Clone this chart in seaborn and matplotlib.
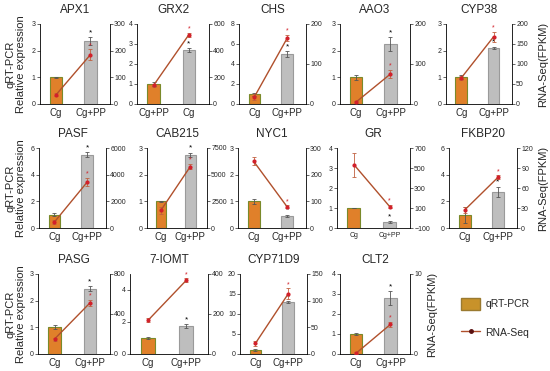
import numpy as np
import pandas as pd
import matplotlib
matplotlib.use("Agg")
import matplotlib.pyplot as plt
import seaborn as sns
from matplotlib.patches import Patch
from matplotlib.lines import Line2D

sns.set_theme(style="white")
plt.rcParams['font.family'] = ['Liberation Sans', 'DejaVu Sans']

genes = ["APX1", "GRX2", "CHS", "AAO3", "CYP38",
         "PASF", "CAB215", "NYC1", "GR", "FKBP20",
         "PASG", "7-IOMT", "CYP71D9", "CLT2"]
groups = ["Cg", "Cg+PP"]
xlabels = [["Cg", "Cg+PP"], ["Cg+PP", "Cg"]] + [["Cg", "Cg+PP"]] * 12

qpcr_mean = [[1.0, 2.35], [1.0, 2.7], [1.0, 5.0], [1.0, 2.25], [1.0, 2.1],
             [1.0, 5.5], [1.0, 2.75], [1.0, 0.45], [1.0, 0.3], [1.0, 2.7],
             [1.0, 2.45], [1.0, 1.75], [1.0, 13.0], [1.0, 2.8]]
qpcr_err = [[0.01, 0.15], [0.1, 0.1], [0.15, 0.3], [0.1, 0.25], [0.07, 0.05],
            [0.1, 0.2], [0.02, 0.08], [0.1, 0.05], [0.02, 0.05], [0.6, 0.4],
            [0.08, 0.1], [0.05, 0.1], [0.2, 0.3], [0.03, 0.35]]
rna_mean = [[35, 185], [140, 520], [18, 165], [5, 75], [65, 168],
            [450, 3450], [1650, 5750], [250, 80], [535, 115], [27, 76],
            [150, 510], [168, 368], [20, 113], [0.1, 3.7]]
rna_err = [[5, 20], [10, 15], [8, 8], [3, 10], [5, 12],
           [150, 300], [300, 250], [15, 5], [120, 15], [5, 3],
           [15, 30], [10, 10], [5, 10], [0.1, 0.3]]
left_ticks = [[0, 1, 2, 3], [0, 1, 2, 3, 4], [0, 2, 4, 6, 8], [0, 1, 2, 3], [0, 1, 2, 3],
              [0, 2, 4, 6], [0, 1, 2, 3], [0, 1, 2, 3], [0, 1, 2, 3, 4], [0, 2, 4, 6],
              [0, 1, 2, 3], [0, 2, 4], [0, 5, 10, 15, 20], [0, 1, 2, 3, 4]]
left_lim = [(0, 3), (0, 4), (0, 8), (0, 3), (0, 3),
            (0, 6), (0, 3), (0, 3), (0, 4), (0, 6),
            (0, 3), (0, 5), (0, 20), (0, 4)]
right_ticks = [[0, 100, 200, 300], [0, 200, 400, 600], [0, 100, 200], [0, 100, 200],
               [0, 50, 100, 150, 200],
               [0, 2000, 4000, 6000], [0, 2500, 5000, 7500], [0, 100, 200, 300],
               [-100, 100, 300, 500, 700], [0, 30, 60, 90, 120],
               [0, 400, 800], [0, 200, 400], [0, 50, 100, 150], [0, 10]]

# axes placement in pixels (left, right, top, bottom)
W, H = 550, 371
boxes = [(40, 110, 24, 104), (137, 209, 24, 104), (239, 306, 24, 104), (340, 410, 24, 104), (446, 512, 24, 104),
         (39, 106, 148, 228), (147, 207, 148, 228), (238, 306, 148, 228), (337, 410, 148, 228), (449, 517, 148, 228),
         (38, 110, 274, 354), (130, 208, 274, 354), (240, 307, 274, 354), (340, 410, 274, 354)]

bar_colors = ["#E0802A", "#BEBEBE"]
bar_edges = ["#7A8A2A", "#9A9A9A"]
line_color = "#B0502C"
dot_color = "#D2202A"

fig = plt.figure(figsize=(W / 100, H / 100), dpi=100)

for i, g in enumerate(genes):
    l, r, t, b = boxes[i]
    ax = fig.add_axes([l / W, 1 - b / H, (r - l) / W, (b - t) / H])
    df = pd.DataFrame({"group": groups, "value": qpcr_mean[i]})
    sns.barplot(data=df, x="group", y="value", hue="group", palette=bar_colors,
                saturation=1, width=0.36, errorbar=None, legend=False, ax=ax, zorder=2)
    for p, ec in zip(ax.patches, bar_edges):
        p.set_edgecolor(ec)
        p.set_linewidth(0.8)
    ax.errorbar([0, 1], qpcr_mean[i], yerr=qpcr_err[i], fmt="none",
                ecolor="#555555", elinewidth=0.6, capsize=1.5, capthick=0.6, zorder=3)
    lo, hi = left_lim[i]
    ax.set_ylim(lo, hi)
    ax.set_yticks(left_ticks[i])
    ax.set_xlim(-0.47, 1.57)
    ax.set_xticks([0, 1])
    ax.set_xticklabels(xlabels[i], fontsize=7 if g != "GR" else 5)
    ax.set_xlabel("")
    ax.set_ylabel("")
    ax.set_title(g, fontsize=8.5, pad=8)
    ax.tick_params(axis="y", labelsize=5, length=2, width=0.5, pad=1, left=True)
    ax.tick_params(axis="x", length=0, pad=3)
    # star above Cg+PP bar
    ax.text(1, qpcr_mean[i][1] + qpcr_err[i][1] + (hi - lo) * 0.01, "*",
            ha="center", va="bottom", fontsize=6, color="black")

    ax2 = ax.twinx()
    ax2.errorbar([0, 1], rna_mean[i], yerr=rna_err[i], color=line_color, lw=1.0,
                 marker="o", ms=2, mfc=dot_color, mec=dot_color,
                 ecolor="#C06040", elinewidth=0.6, capsize=1.5, capthick=0.6)
    rt = right_ticks[i]
    ax2.set_ylim(rt[0], rt[-1])
    ax2.set_yticks(rt)
    ax2.tick_params(axis="y", labelsize=5, length=2, width=0.5, pad=1, right=True)
    yr = rt[-1] - rt[0]
    ax2.text(1, rna_mean[i][1] + rna_err[i][1] + yr * 0.005, "*",
             ha="center", va="bottom", fontsize=5, color=dot_color)
    for a in (ax, ax2):
        a.spines["top"].set_visible(False)
        for s in ("left", "right", "bottom"):
            a.spines[s].set_color("black")
            a.spines[s].set_linewidth(0.6)
    ax.spines["right"].set_visible(False)
    ax2.spines["left"].set_visible(False)
    ax2.spines["bottom"].set_visible(False)

# side labels
for yc in [(24 + 104) / 2, (148 + 228) / 2, (274 + 354) / 2]:
    fig.text(16 / W, 1 - yc / H, "qRT-PCR\nRelative expression", rotation=90,
             ha="center", va="center", fontsize=8, linespacing=1.1)
for xc, yc in [(543, (24 + 104) / 2), (543, (148 + 228) / 2), (432, (274 + 354) / 2)]:
    fig.text(xc / W, 1 - yc / H, "RNA-Seq(FPKM)", rotation=90,
             ha="center", va="center", fontsize=8)

handles = [Patch(facecolor="#C8922A", edgecolor="#9A7A30", label="qRT-PCR"),
           Line2D([0], [0], color=line_color, lw=1, marker="o", ms=2.5,
                  mfc="#5A1010", mec="#5A1010", label="RNA-Seq")]
fig.legend(handles=handles, loc="center left", bbox_to_anchor=(452 / W, 1 - 318 / H),
           frameon=False, fontsize=7.5, handlelength=1.8, handleheight=1.4,
           labelspacing=1.6, handletextpad=0.5)

fig.savefig("out.png", dpi=100)
